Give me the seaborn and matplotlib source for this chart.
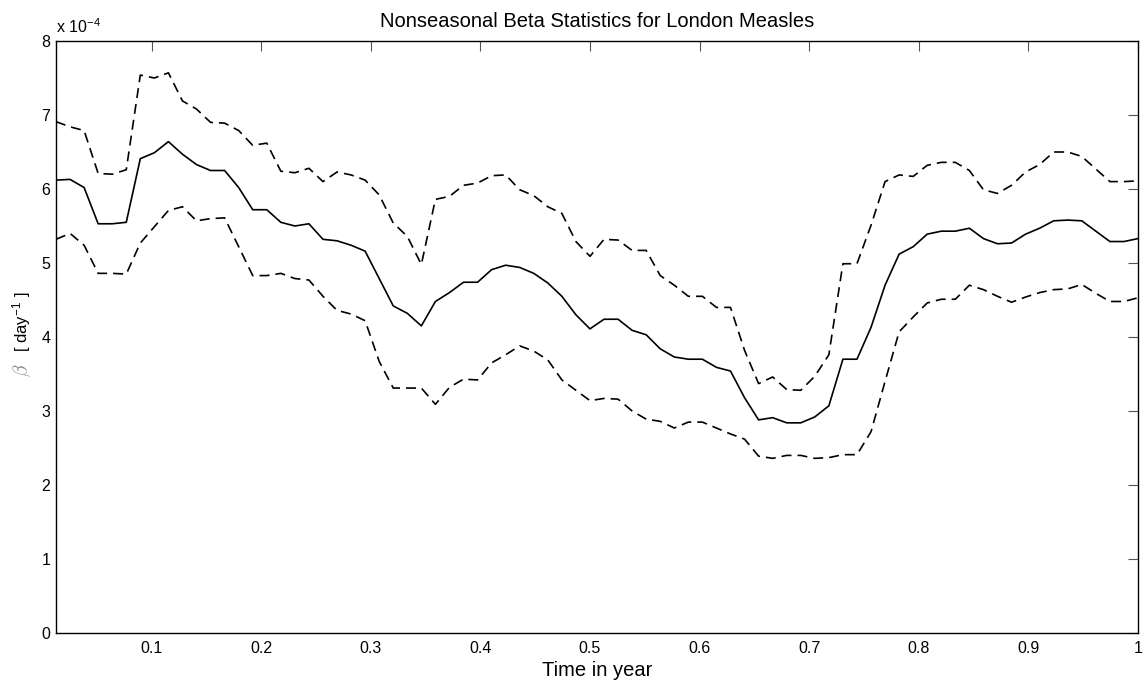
import numpy as np
import pandas as pd
import matplotlib
matplotlib.use("Agg")
import matplotlib.pyplot as plt
import seaborn as sns

# ---- data (beta in units of 1e-4 per day) ----
n_points = 78
time = np.arange(1, n_points + 1) / n_points
scale = 1e-4

beta_mean = [6.12, 6.13, 6.02, 5.53, 5.53, 5.55, 6.41, 6.49, 6.64, 6.47,
             6.33, 6.25, 6.25, 6.02, 5.72, 5.72, 5.55, 5.50, 5.53, 5.32,
             5.30, 5.24, 5.16, 4.79, 4.42, 4.32, 4.15, 4.48, 4.60, 4.74,
             4.74, 4.91, 4.97, 4.94, 4.86, 4.73, 4.55, 4.30, 4.11, 4.24,
             4.24, 4.09, 4.03, 3.84, 3.73, 3.70, 3.70, 3.59, 3.54, 3.18,
             2.88, 2.91, 2.84, 2.84, 2.92, 3.07, 3.70, 3.70, 4.13, 4.70,
             5.12, 5.22, 5.39, 5.43, 5.43, 5.47, 5.33, 5.26, 5.27, 5.39,
             5.47, 5.57, 5.58, 5.57, 5.43, 5.29, 5.29, 5.33]

beta_upper = [6.91, 6.84, 6.79, 6.21, 6.20, 6.26, 7.54, 7.50, 7.57, 7.19,
              7.08, 6.90, 6.89, 6.79, 6.59, 6.62, 6.24, 6.22, 6.28, 6.10,
              6.23, 6.19, 6.12, 5.92, 5.54, 5.36, 4.98, 5.86, 5.90, 6.05,
              6.08, 6.18, 6.19, 5.99, 5.91, 5.76, 5.67, 5.29, 5.09, 5.32,
              5.31, 5.17, 5.17, 4.83, 4.70, 4.55, 4.55, 4.40, 4.40, 3.82,
              3.37, 3.46, 3.29, 3.28, 3.47, 3.76, 4.99, 4.99, 5.51, 6.10,
              6.19, 6.17, 6.32, 6.36, 6.36, 6.25, 5.99, 5.94, 6.05, 6.23,
              6.33, 6.50, 6.50, 6.44, 6.27, 6.10, 6.10, 6.11]

beta_lower = [5.32, 5.40, 5.24, 4.86, 4.86, 4.85, 5.27, 5.49, 5.71, 5.76,
              5.57, 5.60, 5.61, 5.22, 4.83, 4.83, 4.86, 4.79, 4.77, 4.55,
              4.36, 4.31, 4.22, 3.67, 3.31, 3.31, 3.31, 3.09, 3.32, 3.43,
              3.42, 3.65, 3.76, 3.88, 3.81, 3.69, 3.42, 3.28, 3.14, 3.17,
              3.16, 3.00, 2.89, 2.86, 2.77, 2.85, 2.85, 2.77, 2.69, 2.62,
              2.39, 2.36, 2.40, 2.40, 2.36, 2.37, 2.41, 2.41, 2.72, 3.40,
              4.07, 4.27, 4.46, 4.51, 4.51, 4.70, 4.64, 4.55, 4.47, 4.54,
              4.60, 4.64, 4.65, 4.71, 4.59, 4.48, 4.48, 4.53]

x_ticks = [0.1, 0.2, 0.3, 0.4, 0.5, 0.6, 0.7, 0.8, 0.9, 1.0]
x_tick_labels = ["0.1", "0.2", "0.3", "0.4", "0.5", "0.6", "0.7", "0.8", "0.9", "1"]
y_ticks = [0, 1, 2, 3, 4, 5, 6, 7, 8]
y_tick_labels = ["0", "1", "2", "3", "4", "5", "6", "7", "8"]

title = "Nonseasonal Beta Statistics for London Measles"
xlabel = "Time in year"

df = pd.DataFrame({
    "time": time,
    "mean": np.array(beta_mean) * scale,
    "upper": np.array(beta_upper) * scale,
    "lower": np.array(beta_lower) * scale,
})

# ---- style ----
sns.set_style("white")
plt.rcParams["font.family"] = ["Liberation Sans", "DejaVu Sans"]
plt.rcParams["mathtext.fontset"] = "cm"
plt.rcParams["text.color"] = "black"
plt.rcParams["axes.labelcolor"] = "black"
plt.rcParams["axes.titlecolor"] = "black"

fig = plt.figure(figsize=(11.44, 6.83), dpi=100)
ax = fig.add_axes([56 / 1144, 50 / 683, (1138 - 56) / 1144, (633 - 41) / 683])

dash = (0, (6, 3.6))
sns.lineplot(data=df, x="time", y="upper", color="black", linewidth=1.2,
             linestyle=dash, estimator=None, ax=ax)
sns.lineplot(data=df, x="time", y="mean", color="black", linewidth=1.2,
             estimator=None, ax=ax)
sns.lineplot(data=df, x="time", y="lower", color="black", linewidth=1.2,
             linestyle=dash, estimator=None, ax=ax)

ax.set_xlim(time[0], 1.0)
ax.set_ylim(0, 8 * scale)
ax.set_xticks(x_ticks)
ax.set_xticklabels(x_tick_labels)
ax.set_yticks([v * scale for v in y_ticks])
ax.set_yticklabels(y_tick_labels)

for sp in ax.spines.values():
    sp.set_visible(True)
    sp.set_color("black")
    sp.set_linewidth(1.0)

ax.tick_params(axis="both", which="major", direction="in", length=7.5,
               width=0.8, color="#555555", labelsize=11.5, labelcolor="black",
               top=True, right=True)
ax.tick_params(axis="x", pad=6)
ax.tick_params(axis="y", pad=4)

ax.set_title(title, fontsize=14.5, pad=10, color="black")
ax.set_xlabel(xlabel, fontsize=14.5, labelpad=3, color="black")
ax.set_ylabel("")

# MATLAB-style exponent label
ax.text(0.0, 1.0135, r"x 10$^{\mathregular{-4}}$", transform=ax.transAxes,
        ha="left", va="baseline", fontsize=11.5, color="black")

# y-axis label: gray beta followed by unit
fig.text(22 / 1144, 1 - 370 / 683, r"$\beta$", rotation=90, color="#8a8a8a",
         fontsize=14, ha="center", va="center")
fig.text(22 / 1144, 1 - 321 / 683, r"[ day$^{\mathregular{-1}}$ ]", rotation=90,
         color="black", fontsize=12, ha="center", va="center")

fig.savefig("out.png", dpi=100)
